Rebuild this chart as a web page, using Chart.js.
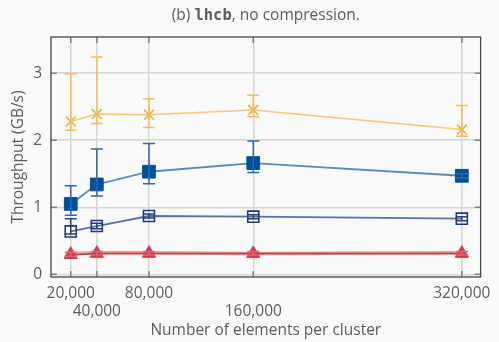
<!DOCTYPE html>
<html>
<head>
<meta charset="utf-8">
<script src="https://cdn.jsdelivr.net/npm/chart.js@4/dist/chart.umd.min.js"></script>
<style>
  html, body { margin: 0; padding: 0; background: #fafafa; }
  #wrap { width: 499px; height: 342px; }
</style>
</head>
<body>
<div id="wrap"><canvas id="c" width="499" height="342"></canvas></div>
<script>
// Cluster sizes on the x axis and the tick values shown on both axes
const elements = [20000, 40000, 80000, 160000, 320000];
const xTicks = [20000, 40000, 80000, 160000, 320000];
const yTicks = [0, 1, 2, 3];

// Throughput in GB/s: mean with lower / upper error bounds
const yellowMean = [2.28, 2.39, 2.38, 2.45, 2.16];
const yellowLow  = [2.15, 2.25, 2.19, 2.35, 2.06];
const yellowHigh = [2.99, 3.24, 2.62, 2.67, 2.52];

const blueMean = [1.05, 1.34, 1.53, 1.66, 1.47];
const blueLow  = [0.88, 1.17, 1.35, 1.52, 1.44];
const blueHigh = [1.32, 1.87, 1.95, 1.99, 1.50];

const navyMean = [0.64, 0.72, 0.87, 0.86, 0.83];
const navyLow  = [0.60, 0.68, 0.84, 0.83, 0.80];
const navyHigh = [0.83, 0.76, 0.90, 0.89, 0.86];

const redMean = [0.29, 0.31, 0.31, 0.31, 0.31];
const redLow  = [0.27, 0.29, 0.29, 0.29, 0.29];
const redHigh = [0.33, 0.34, 0.34, 0.34, 0.34];

const pinkMean = [0.31, 0.32, 0.32, 0.31, 0.32];

const FONT = "'Open Sans', 'Noto Sans', sans-serif";
const TEXT = '#5a5f62';
const SIZE = 15.5;

function pts(vals) { return elements.map((x, i) => ({ x, y: vals[i] })); }

// error bar data keyed by dataset index
const errors = {
  0: { low: yellowLow, high: yellowHigh, color: '#f5bf55' },
  1: { low: blueLow, high: blueHigh, color: '#2f68ad' },
  2: { low: navyLow, high: navyHigh, color: '#22407f' },
  3: { low: redLow, high: redHigh, color: '#d36a75' }
};

const errorBars = {
  id: 'errorBars',
  afterDatasetDraw(chart, args) {
    const e = errors[args.index];
    if (!e) return;
    const { ctx, scales: { x, y } } = chart;
    ctx.save();
    ctx.strokeStyle = e.color;
    ctx.lineWidth = 1.5;
    elements.forEach((xv, i) => {
      const px = x.getPixelForValue(xv);
      const y0 = y.getPixelForValue(e.low[i]);
      const y1 = y.getPixelForValue(e.high[i]);
      ctx.beginPath();
      ctx.moveTo(px, y0); ctx.lineTo(px, y1);
      ctx.moveTo(px - 6, y0); ctx.lineTo(px + 6, y0);
      ctx.moveTo(px - 6, y1); ctx.lineTo(px + 6, y1);
      ctx.stroke();
    });
    ctx.restore();
  }
};

// box around the plot with short inward ticks on all four sides
const frame = {
  id: 'frame',
  afterDraw(chart) {
    const { ctx, chartArea: a, scales: { x, y } } = chart;
    ctx.save();
    ctx.strokeStyle = '#7b8589';
    ctx.lineWidth = 1.5;
    ctx.beginPath();
    xTicks.forEach(v => {
      const px = x.getPixelForValue(v);
      ctx.moveTo(px, a.top); ctx.lineTo(px, a.top + 6);
      ctx.moveTo(px, a.bottom); ctx.lineTo(px, a.bottom - 6);
    });
    yTicks.forEach(v => {
      const py = y.getPixelForValue(v);
      ctx.moveTo(a.left, py); ctx.lineTo(a.left + 6, py);
      ctx.moveTo(a.right, py); ctx.lineTo(a.right - 6, py);
    });
    ctx.stroke();
    ctx.strokeStyle = '#3e4b50';
    ctx.lineWidth = 1.3;
    ctx.strokeRect(a.left, a.top, a.right - a.left, a.bottom - a.top);
    ctx.restore();
  }
};

// caption with the dataset name set in a monospace face
const caption = {
  id: 'caption',
  afterDraw(chart) {
    const { ctx, chartArea: a } = chart;
    const parts = [
      { t: '(b) ', f: SIZE + "px " + FONT },
      { t: 'lhcb', f: "bold " + SIZE + "px 'DejaVu Sans Mono', monospace" },
      { t: ', no compression.', f: SIZE + "px " + FONT }
    ];
    ctx.save();
    ctx.fillStyle = TEXT;
    ctx.textBaseline = 'middle';
    let w = 0;
    parts.forEach(p => { ctx.font = p.f; p.w = ctx.measureText(p.t).width; w += p.w; });
    let cx = (a.left + a.right) / 2 - w / 2;
    parts.forEach(p => { ctx.font = p.f; ctx.fillText(p.t, cx, 16); cx += p.w; });
    ctx.restore();
  }
};

new Chart(document.getElementById('c'), {
  type: 'line',
  data: {
    datasets: [
      {
        label: 'yellow', data: pts(yellowMean),
        borderColor: 'rgba(246,196,100,0.9)', borderWidth: 1.6,
        pointStyle: 'crossRot', pointRadius: 7, pointBorderColor: '#f3b13c',
        pointBorderWidth: 1.6, order: 3
      },
      {
        label: 'blue', data: pts(blueMean),
        borderColor: 'rgba(70,125,190,0.9)', borderWidth: 1.8,
        pointStyle: 'rect', pointRadius: 9, pointBackgroundColor: '#00509e',
        pointBorderColor: '#00509e', pointBorderWidth: 1, order: 2
      },
      {
        label: 'navy', data: pts(navyMean),
        borderColor: 'rgba(60,90,150,0.85)', borderWidth: 1.8,
        pointStyle: 'rect', pointRadius: 7.8, pointBackgroundColor: 'rgba(0,0,0,0)',
        pointBorderColor: '#1c3a7e', pointBorderWidth: 1.6, order: 1
      },
      {
        label: 'red', data: pts(redMean),
        borderColor: '#c8343f', borderWidth: 1.5,
        pointStyle: 'triangle', pointRadius: 7.5, pointBackgroundColor: '#d33b4a',
        pointBorderColor: '#d33b4a', pointBorderWidth: 1, order: 0
      },
      {
        label: 'pink', data: pts(pinkMean),
        borderColor: 'rgba(225,120,132,0.7)', borderWidth: 3.5,
        pointStyle: 'triangle', pointRadius: 7.5, pointBackgroundColor: 'rgba(225,110,124,0.6)',
        pointBorderColor: 'rgba(225,110,124,0.6)', pointBorderWidth: 1, order: 4
      }
    ]
  },
  options: {
    responsive: false,
    animation: false,
    layout: { padding: { top: 37, right: 13, left: 0, bottom: 0 } },
    plugins: { legend: { display: false }, tooltip: { enabled: false } },
    scales: {
      x: {
        type: 'linear', min: 4850, max: 334400,
        afterBuildTicks: s => { s.ticks = xTicks.map(v => ({ value: v })); },
        afterFit: s => { s.height = 65; },
        border: { display: false },
        grid: { color: '#d6d6d6', lineWidth: 1.5, drawTicks: false },
        ticks: {
          padding: 8, color: TEXT, maxRotation: 0, autoSkip: false,
          font: { family: FONT, size: SIZE, lineHeight: 1.15 },
          callback: (v, i) => {
            const s = v.toLocaleString('en-US');
            return (i % 2 === 1) ? ['', s] : s;
          }
        },
        title: {
          display: true, text: 'Number of elements per cluster', color: TEXT,
          font: { family: FONT, size: SIZE }, padding: { top: 0, bottom: 2 }
        }
      },
      y: {
        min: -0.04, max: 3.54,
        afterBuildTicks: s => { s.ticks = yTicks.map(v => ({ value: v })); },
        afterFit: s => { s.width = 51; },
        border: { display: false },
        grid: { color: '#d6d6d6', lineWidth: 1.5, drawTicks: false },
        ticks: { padding: 9, color: TEXT, font: { family: FONT, size: SIZE } },
        title: {
          display: true, text: 'Throughput (GB/s)', color: TEXT,
          font: { family: FONT, size: SIZE }, padding: { top: 9, bottom: 0 }
        }
      }
    }
  },
  plugins: [errorBars, frame, caption]
});
</script>
</body>
</html>
